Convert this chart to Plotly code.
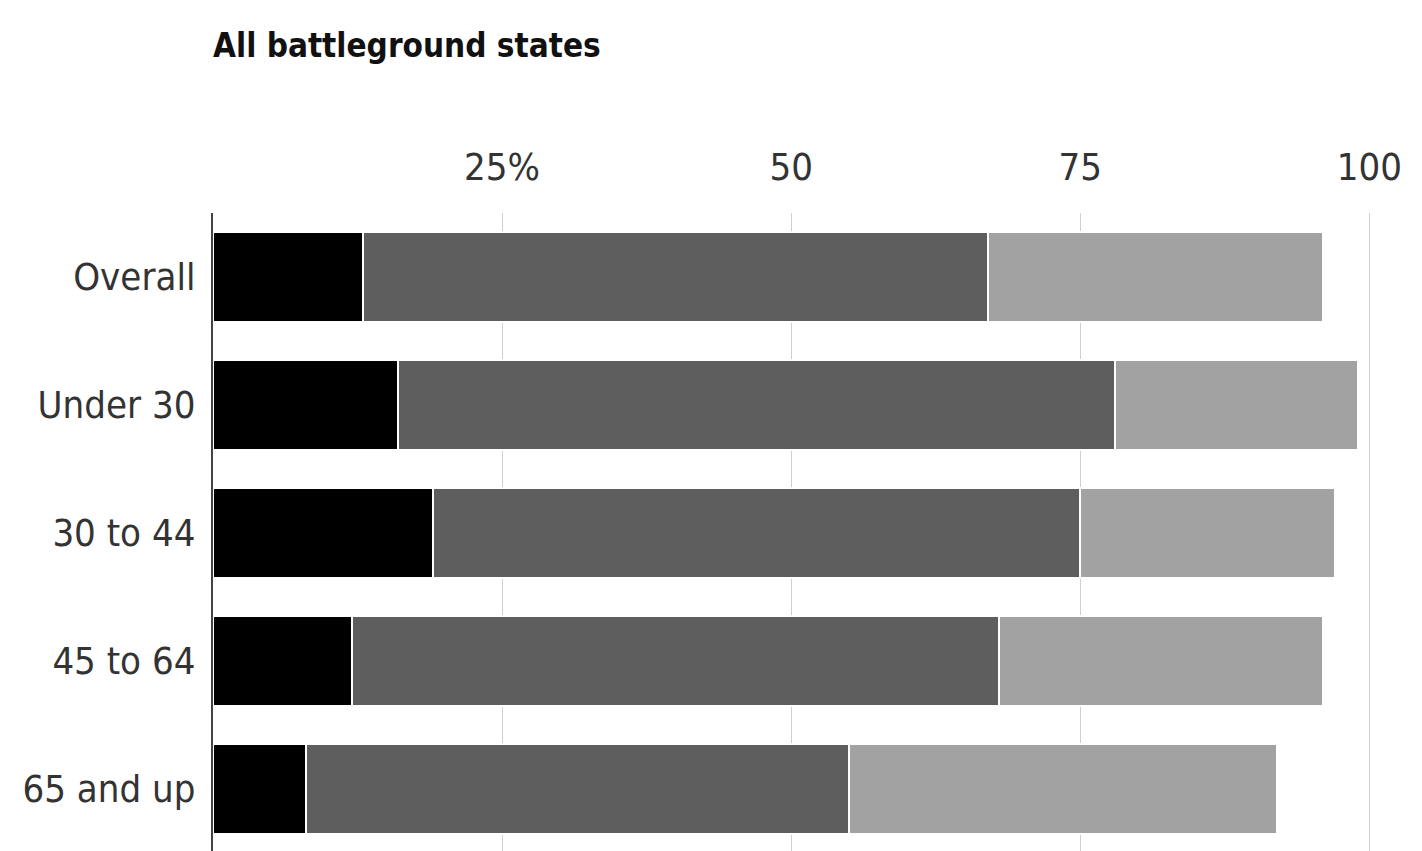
import plotly.graph_objects as go

categories = ["Overall", "Under 30", "30 to 44", "45 to 64", "65 and up"]
seg1 = [13, 16, 19, 12, 8]
seg2 = [54, 62, 56, 56, 47]
seg3 = [29, 21, 22, 28, 37]
series_names = ["Segment 1", "Segment 2", "Segment 3"]
colors = ["#000000", "#5e5e5e", "#a2a2a2"]
tick_vals = [25, 50, 75, 100]
tick_text = ["25%", "50", "75", "100"]
title_text = "All battleground states"

FONT = "DejaVu Sans Condensed, Liberation Sans Narrow, Liberation Sans, sans-serif"

fig = go.Figure()
for name, vals, col in zip(series_names, [seg1, seg2, seg3], colors):
    fig.add_trace(go.Bar(
        y=categories, x=vals, name=name, orientation="h",
        marker=dict(color=col, line=dict(color="white", width=2)),
        hoverinfo="x+y",
    ))

fig.update_layout(
    barmode="stack",
    bargap=0.3,
    width=1422, height=851,
    margin=dict(l=205, r=56, t=205, b=6),
    paper_bgcolor="white", plot_bgcolor="white",
    showlegend=False,
    font=dict(family=FONT, color="#222"),
    title=dict(text=f"<b>{title_text}</b>", x=205/1422, xanchor="left",
               y=1 - 37/851, yanchor="middle",
               font=dict(family=FONT, size=33, color="#111")),
)
fig.update_xaxes(
    side="top", range=[0, 100.4],
    tickvals=tick_vals, ticktext=tick_text,
    tickfont=dict(family=FONT, size=38, color="#333"),
    showgrid=True, gridcolor="#cfcfcf", gridwidth=1,
    zeroline=False, showline=False, ticks="",
    ticklabelstandoff=24, automargin=False,
)
fig.update_yaxes(
    autorange="reversed",
    tickfont=dict(family=FONT, size=38, color="#333"),
    showgrid=False, ticks="", ticklabelstandoff=8,
    showline=True, linecolor="#444", linewidth=2,
    automargin=False,
)

fig.write_html("out.html")
